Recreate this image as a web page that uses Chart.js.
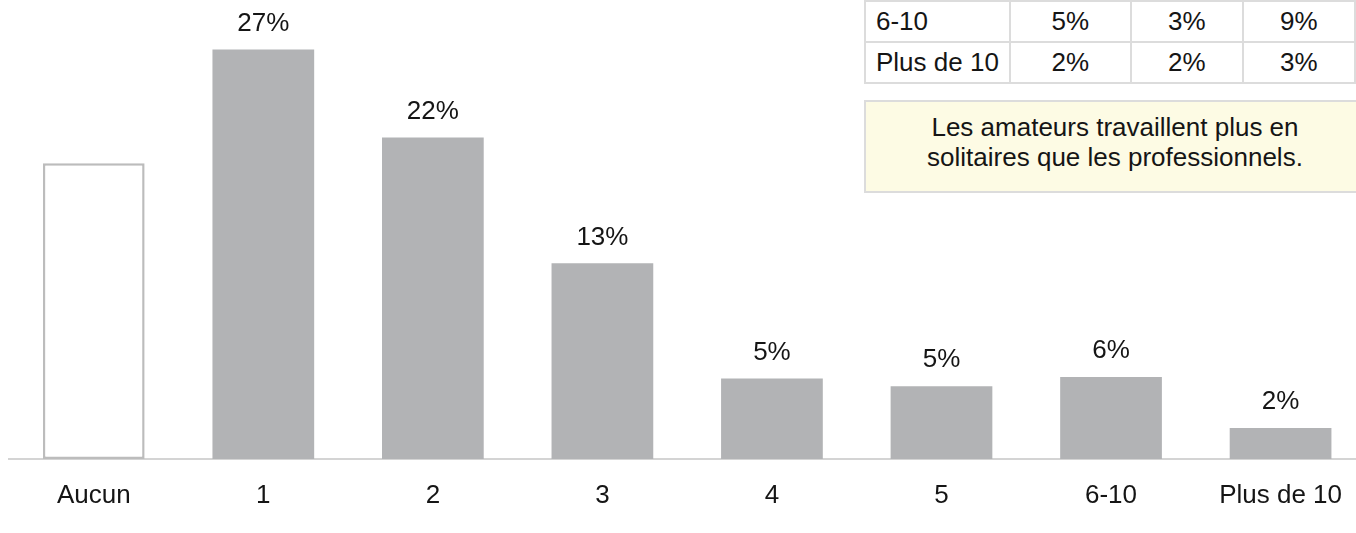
<!DOCTYPE html>
<html lang="fr">
<head>
    <meta charset="UTF-8">
    <title>Nombre de collaborateurs</title>
    <script src="https://cdn.jsdelivr.net/npm/chart.js"></script>
    <style>
        html, body { margin: 0; padding: 0; background: #fff; overflow: hidden; }
        body { width: 1356px; height: 533px; position: relative; font-family: 'Liberation Sans', Arial, sans-serif; }
        #chartWrap { position: absolute; left: 0; top: 0; width: 1369px; height: 533px; }
        #sideTable {
            position: absolute; left: 864px; top: 0px;
            border-collapse: collapse; table-layout: fixed;
            font-size: 26px; color: #151515; background: #fff;
        }
        #sideTable td { border: 2px solid #dcdcdc; height: 39px; padding: 0; text-align: center; }
        #sideTable td:first-child { text-align: left; padding-left: 10px; }
        #note {
            position: absolute; left: 864px; top: 100px; width: 500px; height: 93px;
            box-sizing: border-box; background: #fdfbe4;
            border: 2px solid #dcdcdc; border-right: none;
            font-size: 26px; line-height: 30px; color: #151515;
            text-align: center; padding-top: 10px;
        }
    </style>
</head>
<body>
    <div id="chartWrap"><canvas id="barChart" width="1369" height="533"></canvas></div>

    <!-- tableau partiel en haut a droite -->
    <table id="sideTable">
        <colgroup><col style="width:148px"><col style="width:124px"><col style="width:115px"><col style="width:115px"></colgroup>
        <tbody id="sideBody"></tbody>
    </table>
    <div id="note"></div>

    <script>
        // categories et valeurs (en %)
        const categories = ['Aucun', '1', '2', '3', '4', '5', '6-10', 'Plus de 10'];
        const shares = [19.5, 27, 21.2, 12.9, 5.3, 4.8, 5.4, 2.05];
        const shareLabels = ['', '27%', '22%', '13%', '5%', '5%', '6%', '2%'];

        // lignes visibles du tableau
        const tableRows = [
            ['6-10', '5%', '3%', '9%'],
            ['Plus de 10', '2%', '2%', '3%']
        ];
        const noteLines = ['Les amateurs travaillent plus en', 'solitaires que les professionnels.'];

        const tbody = document.getElementById('sideBody');
        tableRows.forEach(row => {
            tbody.innerHTML += '<tr>' + row.map(c => `<td>${c}</td>`).join('') + '</tr>';
        });
        document.getElementById('note').innerHTML = noteLines.join('<br>');

        const gray = '#b2b3b5';
        const fills = categories.map((c, i) => i === 0 ? '#ffffff' : gray);
        const borders = categories.map((c, i) => i === 0 ? '#bcbcbc' : gray);
        const borderWidths = categories.map((c, i) => i === 0 ? 2.5 : 0);

        // etiquettes au-dessus des barres
        const valueLabels = {
            id: 'valueLabels',
            afterDatasetsDraw(chart) {
                const ctx = chart.ctx;
                const meta = chart.getDatasetMeta(0);
                ctx.save();
                ctx.font = '26px "Liberation Sans", Arial, sans-serif';
                ctx.fillStyle = '#151515';
                ctx.textAlign = 'center';
                ctx.textBaseline = 'middle';
                meta.data.forEach((bar, i) => {
                    if (shareLabels[i]) ctx.fillText(shareLabels[i], bar.x, bar.y - 26);
                });
                ctx.restore();
            }
        };

        const ctx = document.getElementById('barChart').getContext('2d');
        new Chart(ctx, {
            type: 'bar',
            data: {
                labels: categories,
                datasets: [{
                    data: shares,
                    backgroundColor: fills,
                    borderColor: borders,
                    borderWidth: borderWidths,
                    borderSkipped: false,
                    barPercentage: 0.6,
                    categoryPercentage: 1.0
                }]
            },
            options: {
                responsive: false,
                animation: false,
                layout: { padding: { left: 9, right: 0, top: 4, bottom: 0 } },
                plugins: { legend: { display: false }, tooltip: { enabled: false } },
                scales: {
                    x: {
                        grid: { display: false, drawTicks: false },
                        border: { display: true, color: '#d4d4d4', width: 2 },
                        ticks: {
                            color: '#151515',
                            padding: 27,
                            font: { family: '"Liberation Sans", Arial, sans-serif', size: 26, lineHeight: '20px' }
                        }
                    },
                    y: { display: false, min: 0, max: 30 }
                }
            },
            plugins: [valueLabels]
        });
    </script>
</body>
</html>
